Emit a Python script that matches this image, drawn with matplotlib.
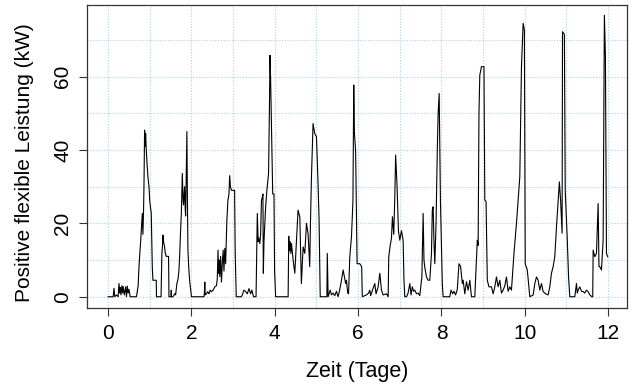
import matplotlib
matplotlib.use("Agg")
import matplotlib.pyplot as plt
from matplotlib.ticker import MultipleLocator

plt.rcParams['font.family'] = ['Liberation Sans', 'DejaVu Sans']

# time in days, positive flexible power in kW
time_days = [
    0.00, 0.12, 0.14, 0.16, 0.20, 0.24, 0.26, 0.28, 0.29, 0.31, 0.33, 0.35, 0.36, 0.39, 0.42, 0.44, 0.46, 0.48, 0.50, 0.53,
    0.68, 0.70, 0.72, 0.74, 0.76, 0.78, 0.80, 0.82, 0.835, 0.85, 0.86, 0.875, 0.89, 0.90, 0.915, 0.93, 0.955, 0.98, 1.00,
    1.035, 1.06, 1.075, 1.155, 1.16,
    1.27, 1.29, 1.305, 1.315, 1.33, 1.355, 1.37, 1.395, 1.45, 1.46, 1.51, 1.515, 1.52, 1.555, 1.60, 1.62, 1.65, 1.68, 1.70,
    1.72, 1.735, 1.757, 1.78, 1.80, 1.81, 1.835, 1.85, 1.86, 1.875, 1.89, 1.90, 1.915, 1.935, 1.955, 1.99,
    2.00, 2.30, 2.31, 2.32, 2.33, 2.36, 2.39, 2.42, 2.45, 2.48, 2.52, 2.56, 2.60, 2.62, 2.637, 2.65, 2.66, 2.68, 2.70, 2.72,
    2.74, 2.76, 2.78, 2.80, 2.82, 2.85, 2.875, 2.90, 2.917, 2.935, 2.96, 3.00, 3.035, 3.05, 3.075,
    3.20, 3.22, 3.26, 3.30, 3.34, 3.38, 3.42, 3.45, 3.49, 3.55, 3.58, 3.60, 3.615, 3.64, 3.66, 3.68, 3.70, 3.715, 3.725,
    3.74, 3.78, 3.81, 3.85, 3.87, 3.885, 3.90, 3.93, 3.95, 3.98, 3.995, 4.02,
    4.32, 4.335, 4.35, 4.37, 4.385, 4.40, 4.44, 4.48, 4.52, 4.558, 4.60, 4.638, 4.68, 4.72, 4.76, 4.80, 4.838, 4.854,
    4.878, 4.918, 4.958, 5.00, 5.038, 5.062, 5.09,
    5.25, 5.26, 5.28, 5.33, 5.36, 5.40, 5.44, 5.48, 5.52, 5.56, 5.60, 5.64, 5.67, 5.70, 5.72, 5.75, 5.77, 5.80, 5.84,
    5.875, 5.895, 5.91, 5.94, 5.975, 6.04, 6.085, 6.10,
    6.20, 6.25, 6.28, 6.30, 6.35, 6.40, 6.43, 6.48, 6.52, 6.56, 6.60, 6.68, 6.72, 6.735, 6.77, 6.80, 6.823, 6.855, 6.88,
    6.90, 6.935, 6.967, 7.00, 7.04, 7.08, 7.10, 7.12,
    7.16, 7.20, 7.24, 7.27, 7.30, 7.33, 7.36, 7.40, 7.44, 7.48, 7.53, 7.56, 7.58, 7.60, 7.64, 7.68, 7.72, 7.76, 7.78,
    7.80, 7.82, 7.84, 7.87, 7.90, 7.92, 7.945, 7.975, 8.02, 8.04,
    8.20, 8.23, 8.27, 8.30, 8.34, 8.38, 8.42, 8.46, 8.50, 8.52, 8.56, 8.60, 8.64, 8.68, 8.72, 8.80, 8.84, 8.86, 8.88,
    8.90, 8.92, 8.96, 9.00, 9.02, 9.04, 9.07, 9.10,
    9.14, 9.20, 9.24, 9.28, 9.32, 9.36, 9.40, 9.44, 9.48, 9.52, 9.56, 9.60, 9.64, 9.68, 9.74, 9.80, 9.84, 9.88, 9.92,
    9.96, 9.99, 10.01, 10.06, 10.12,
    10.20, 10.24, 10.28, 10.32, 10.36, 10.40, 10.44, 10.50, 10.56, 10.60, 10.64, 10.68, 10.72, 10.76, 10.80, 10.83,
    10.86, 10.895, 10.905, 10.95, 10.97, 11.02, 11.05, 11.08,
    11.20, 11.24, 11.26, 11.28, 11.32, 11.36, 11.40, 11.44, 11.48, 11.52, 11.56, 11.61, 11.63, 11.64, 11.68, 11.72,
    11.76, 11.78, 11.80, 11.84, 11.88, 11.91, 11.935, 11.96, 11.99,
]
power_kw = [
    0, 0, 2.3, 0, 0.5, 0, 3.6, 1, 2.5, 0.5, 3, 1, 2.8, 0.5, 2.7, 0, 2.9, 1, 2, 0,
    0, 1.5, 3, 8, 11.8, 15, 19, 22.7, 17, 23.6, 30, 45.4, 41, 44.5, 40, 37, 32.7, 30, 26,
    22.7, 8, 4.5, 4.5, 0,
    0, 11.8, 14, 16.8, 15, 13.6, 12, 11, 11, 0, 0, 1.8, 0, 0, 0.8, 0.5, 3.6, 5, 7.3,
    12, 17, 22.7, 33.6, 26, 25, 30, 24, 22, 33, 45, 30, 12.7, 8, 4.5, 1,
    0, 0, 1, 4, 0.5, 0.8, 1.4, 0.8, 1.8, 1.4, 1.8, 2.7, 3, 5, 12.7, 6.4, 10, 5.5, 11, 4,
    9, 12.7, 7, 13.2, 9, 20.9, 26.3, 28, 33, 30, 29, 29, 29, 11.8, 0,
    0, 0.5, 1.8, 1.4, 0.8, 2.2, 0.8, 1.8, 0, 0, 22.7, 15, 16, 14.5, 17, 26.3, 27, 28, 6.4,
    15, 24.5, 29, 33.6, 50, 65.8, 59, 40, 28, 28, 7, 0,
    0, 16.5, 12.5, 15, 11.8, 14.5, 10, 6.4, 15.4, 23.6, 21.8, 3.6, 13.6, 11.8, 20, 17, 8.2, 19,
    31.8, 47.2, 44.5, 43.6, 30.9, 21.3, 0,
    0, 11.8, 0, 1.8, 0.5, 1, 0.3, 1.5, 0, 2, 4.5, 7.3, 5.5, 3.6, 4.5, 1, 0.8, 11, 16.3,
    26, 57.7, 45, 39.5, 9, 9, 8.2, 0,
    0.5, 1, 1.8, 0.3, 2, 3.6, 0.8, 2.7, 6.4, 1.8, 0.5, 0.8, 0, 10.9, 14, 16, 21.8, 17, 27,
    38.6, 30, 18, 15.4, 18, 15.4, 4.5, 0,
    0, 1, 3.6, 0.5, 2.7, 1.5, 1.8, 0.8, 1, 0.3, 5.4, 22.7, 10, 8, 5.4, 4.5, 4.5, 11.8, 23.6,
    24.5, 15, 9, 20, 40, 50, 55.4, 26.3, 3.6, 0,
    0, 1.8, 0.8, 1.5, 0.5, 2, 9, 8.2, 3.6, 4.5, 0.8, 4.1, 1.8, 4.5, 0, 0, 10, 15.4, 14,
    50, 60.4, 62.7, 62.7, 62.7, 26.3, 26, 4.5,
    2.7, 2.7, 0.8, 2.7, 5.4, 2.7, 4.5, 1, 1.8, 3, 5.4, 1.5, 2.7, 1.8, 11.8, 20, 26.3, 32.7, 62.7,
    74.5, 72.7, 9, 7.3, 0,
    0.5, 3.6, 5.4, 4.5, 1.8, 3.6, 1.4, 0.8, 0.5, 2.7, 6.4, 8.2, 10.9, 19, 26.3, 31.3,
    26, 17.3, 72.2, 71.5, 29, 15.4, 5.4, 0,
    0, 3.6, 1, 1.8, 2.7, 1.5, 1.4, 1, 1.8, 1.4, 0.5, 0, 0, 12.7, 10.9, 11.8,
    25.4, 8.2, 8.2, 7.3, 15.4, 76.7, 65.4, 11.8, 10.9,
]

x_ticks = [0, 2, 4, 6, 8, 10, 12]
y_ticks = [0, 20, 40, 60]
x_label = "Zeit (Tage)"
y_label = "Positive flexible Leistung (kW)"

fig = plt.figure(figsize=(6.31, 3.88), dpi=100)
ax = fig.add_axes([87.3 / 631, 1 - 308.3 / 388, (627.3 - 87.3) / 631, (308.3 - 5) / 388])

ax.plot(time_days, power_kw, color="black", lw=0.8, zorder=3)

ax.set_xlim(-0.5, 12.46)
ax.set_ylim(-3.15, 79.5)

ax.set_xticks(x_ticks)
ax.set_yticks(y_ticks)
ax.xaxis.set_minor_locator(MultipleLocator(1))
ax.yaxis.set_minor_locator(MultipleLocator(10))
ax.grid(which="both", color="#a9d3df", linestyle=(0, (1, 1.5)), lw=0.8)
ax.set_axisbelow(True)

ax.tick_params(which="major", length=6, width=0.8, color="#333333", labelsize=15, pad=5)
ax.tick_params(which="minor", length=0)
for lbl in ax.get_yticklabels():
    lbl.set_rotation(90)
    lbl.set_va("center")

for s in ax.spines.values():
    s.set_color("#333333")
    s.set_linewidth(0.9)

ax.set_xlabel(x_label, fontsize=15.5)
ax.set_ylabel(y_label, fontsize=15)
ax.xaxis.label.set_va("center")
ax.yaxis.label.set_va("center")
ax.xaxis.set_label_coords((357.3 - 87.3) / 540, -(372 - 308.3) / 303.3)
ax.yaxis.set_label_coords(-(87.3 - 25) / 540, (308.3 - 163) / 303.3)

fig.savefig("out.png", dpi=100)
